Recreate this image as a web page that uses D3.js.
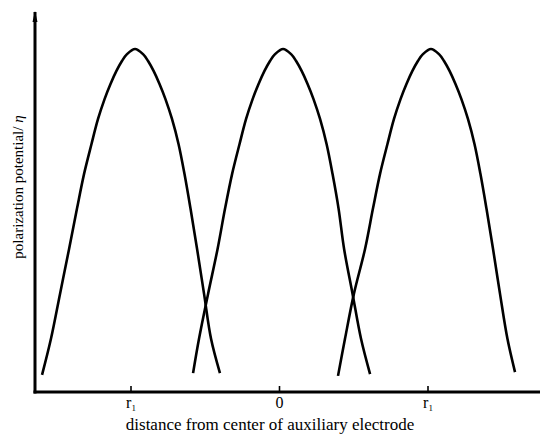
<!DOCTYPE html>
<html>
<head>
<meta charset="utf-8">
<script src="https://cdn.jsdelivr.net/npm/d3@7"></script>
<style>
  html, body { margin: 0; padding: 0; background: #fff; }
  svg { display: block; }
  text { font-family: "Liberation Serif", "DejaVu Serif", serif; fill: #000; }
</style>
</head>
<body>
<svg id="chart" width="540" height="436"></svg>
<script>
// x in units of r1 (distance from center of auxiliary electrode), y in % of peak polarization potential
const levelsY = [15.5, 28.6, 41.7, 53.4, 63.6, 72.3, 79.6, 85.4, 89.8, 93.6, 96.5, 98.5, 100,
                 98.5, 96.5, 93.6, 89.8, 85.4, 79.6, 72.3, 63.6, 53.4, 41.7, 28.6, 15.5];

const curve1X = [-1.599, -1.539, -1.478, -1.417, -1.364, -1.316, -1.266, -1.222, -1.178, -1.138, -1.098, -1.061, -1.027,
                 -0.973,
                 -0.919, -0.885, -0.848, -0.808, -0.768, -0.724, -0.680, -0.640, -0.599, -0.555, -0.508, -0.461, -0.401];
const curve1Y = [5.0, ...levelsY, 5.5];

const curve2X = [-0.582, -0.542, -0.481, -0.417, -0.367, -0.319, -0.269, -0.225, -0.181, -0.141, -0.101, -0.064, -0.030,
                 0.024,
                 0.078, 0.112, 0.149, 0.189, 0.229, 0.273, 0.317, 0.357, 0.398, 0.435, 0.492, 0.549, 0.610];
const curve2Y = [5.5, ...levelsY, 5.2];

const curve3X = [0.394, 0.441, 0.501, 0.576, 0.629, 0.677, 0.727, 0.771, 0.815, 0.855, 0.895, 0.932, 0.966,
                 1.020,
                 1.074, 1.108, 1.145, 1.185, 1.225, 1.269, 1.313, 1.353, 1.394, 1.438, 1.485, 1.535, 1.586];
const curve3Y = [4.7, ...levelsY, 5.8];

const tickValues = [-1, 0, 1];
const tickLabels = ["r1", "0", "r1"];
const xTitle = "distance from center of auxiliary electrode";
const yTitle = "polarization potential/";
const yTitleSymbol = "η";

const svg = d3.select("#chart");
const originX = 35, axisY = 392;

const x = d3.scaleLinear().domain([-1, 1]).range([131, 428]);
const y = d3.scaleLinear().domain([0, 100]).range([axisY, 49]);

const line = d3.line()
  .x(d => x(d[0]))
  .y(d => y(d[1]))
  .curve(d3.curveCatmullRom.alpha(0.5));

[[curve1X, curve1Y], [curve2X, curve2Y], [curve3X, curve3Y]].forEach(([xs, ys]) => {
  const pts = xs.map((v, i) => [v, ys[i]]);
  svg.append("path")
    .attr("d", line(pts))
    .attr("fill", "none")
    .attr("stroke", "#000")
    .attr("stroke-width", 2.6)
    .attr("stroke-linecap", "butt")
    .attr("stroke-linejoin", "round");
});

// x axis
const xAxisG = svg.append("g").attr("transform", `translate(0,${axisY})`);
xAxisG.append("line")
  .attr("x1", originX - 1.5).attr("x2", 540).attr("y1", 0).attr("y2", 0)
  .attr("stroke", "#000").attr("stroke-width", 3);
const ticks = xAxisG.selectAll(".tick").data(tickValues).enter().append("g")
  .attr("transform", d => `translate(${x(d)},0)`);
ticks.append("line").attr("y1", 0).attr("y2", -6)
  .attr("stroke", "#000").attr("stroke-width", 1.6);
ticks.append("text")
  .attr("y", 16)
  .attr("text-anchor", "middle")
  .attr("font-size", 16)
  .each(function(d, i) {
    const t = d3.select(this);
    const lab = tickLabels[i];
    if (lab.startsWith("r")) {
      t.append("tspan").text("r");
      t.append("tspan").attr("font-size", 9).attr("dy", 3).text(lab.slice(1));
    } else {
      t.text(lab);
    }
  });

// y axis with arrow
svg.append("line")
  .attr("x1", originX).attr("x2", originX)
  .attr("y1", axisY + 1.5).attr("y2", 12)
  .attr("stroke", "#000").attr("stroke-width", 3);
svg.append("path")
  .attr("d", `M${originX},11 L${originX - 2.5},${22} L${originX + 2.5},${22} Z`)
  .attr("fill", "#000");

// titles
svg.append("text")
  .attr("x", 270).attr("y", 430)
  .attr("text-anchor", "middle")
  .attr("font-size", 17)
  .text(xTitle);

const yt = svg.append("text")
  .attr("transform", `translate(23,187) rotate(-90)`)
  .attr("text-anchor", "middle")
  .attr("font-size", 15);
yt.append("tspan").text(yTitle);
yt.append("tspan").attr("font-style", "italic").text(" " + yTitleSymbol);
</script>
</body>
</html>
